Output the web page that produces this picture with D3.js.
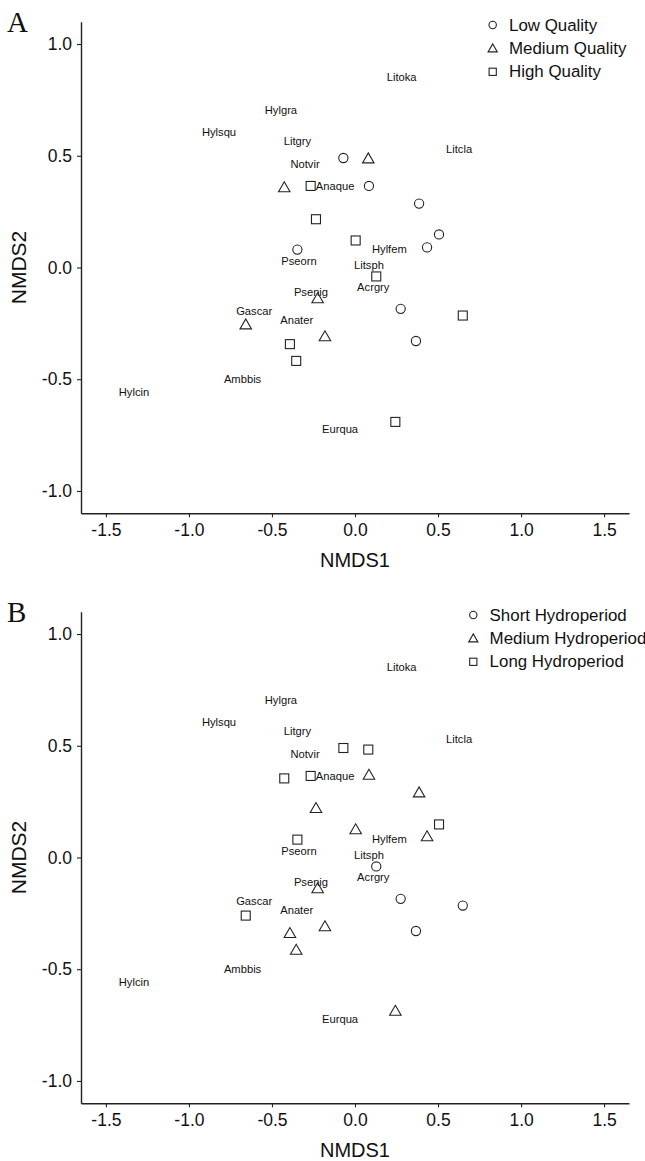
<!DOCTYPE html>
<html>
<head>
<meta charset="utf-8">
<script src="https://cdn.jsdelivr.net/npm/d3@7/dist/d3.min.js"></script>
<style>
  html, body { margin: 0; padding: 0; background: #fff; }
  svg { display: block; }
  text { font-family: "Liberation Sans", Arial, sans-serif; }
</style>
</head>
<body>
<svg id="chart" width="645" height="1161"></svg>
<script>
// ---- Data ----
const species = ["Hylgra","Hylsqu","Litgry","Notvir","Anaque","Litoka","Litcla","Hylfem","Litsph","Acrgry","Pseorn","Psenig","Gascar","Anater","Ambbis","Hylcin","Eurqua"];
const speciesX = [-0.446,-0.819,-0.347,-0.301,-0.120,0.281,0.627,0.207,0.084,0.110,-0.337,-0.265,-0.607,-0.351,-0.677,-1.331,-0.090];
const speciesY = [0.704,0.607,0.567,0.462,0.365,0.853,0.530,0.085,0.010,-0.087,0.030,-0.109,-0.194,-0.233,-0.501,-0.557,-0.721];

const siteX = [-0.070,0.080,-0.426,-0.267,0.084,0.386,-0.235,0.004,0.506,0.434,-0.347,0.128,-0.225,0.275,0.649,-0.658,-0.181,-0.392,0.367,-0.354,0.243];
const siteY = [0.490,0.483,0.354,0.365,0.365,0.286,0.216,0.121,0.148,0.090,0.080,-0.040,-0.143,-0.185,-0.215,-0.260,-0.313,-0.343,-0.329,-0.418,-0.691];
const quality = ["Low","Medium","Medium","High","Low","Low","High","High","Low","Low","Low","High","Medium","Low","High","Medium","Medium","High","Low","High","High"];
const hydroperiod = ["Long","Long","Long","Long","Medium","Medium","Medium","Medium","Long","Medium","Long","Short","Medium","Short","Short","Long","Medium","Medium","Short","Medium","Medium"];

const qualityLevels = ["Low","Medium","High"];
const qualityLabels = ["Low Quality","Medium Quality","High Quality"];
const hydroLevels = ["Short","Medium","Long"];
const hydroLabels = ["Short Hydroperiod","Medium Hydroperiod","Long Hydroperiod"];

const xTicks = [-1.5,-1.0,-0.5,0.0,0.5,1.0,1.5];
const yTicks = [-1.0,-0.5,0.0,0.5,1.0];

// ---- Drawing ----
const svg = d3.select("#chart");
const ink = "#222";
const fmt = d => d.toFixed(1); // plain hyphen-minus as in the reference

function marker(g, shape, cx, cy, s) {
  if (shape === 0) {
    g.append("circle").attr("cx", cx).attr("cy", cy).attr("r", 4.6 * s)
      .attr("fill", "none").attr("stroke", ink).attr("stroke-width", 1.1);
  } else if (shape === 1) {
    const a = 11.5 * s, h = a * Math.sqrt(3) / 2;
    const p = [[cx - a/2, cy + h/3], [cx + a/2, cy + h/3], [cx, cy - 2*h/3]];
    g.append("path").attr("d", "M" + p.map(d => d.join(",")).join("L") + "Z")
      .attr("fill", "none").attr("stroke", ink).attr("stroke-width", 1.1);
  } else {
    const a = 9 * s;
    g.append("rect").attr("x", cx - a/2).attr("y", cy - a/2).attr("width", a).attr("height", a)
      .attr("fill", "none").attr("stroke", ink).attr("stroke-width", 1.1);
  }
}

function panel(offsetY, letter, groups, levels, labels, legendX) {
  const g = svg.append("g").attr("transform", `translate(0,${offsetY})`);
  const x = d3.scaleLinear().domain([-1.65, 1.65]).range([81, 629]);
  const y = d3.scaleLinear().domain([-1.1, 1.1]).range([513.3, 21.7]);

  const xAxis = d3.axisBottom(x).tickValues(xTicks).tickFormat(fmt)
    .tickSizeOuter(0).tickSizeInner(4).tickPadding(6);
  const yAxis = d3.axisLeft(y).tickValues(yTicks).tickFormat(fmt)
    .tickSizeOuter(0).tickSizeInner(4).tickPadding(5);

  const gx = g.append("g").attr("transform", "translate(0,513.3)").call(xAxis);
  const gy = g.append("g").attr("transform", "translate(81,0)").call(yAxis);
  [gx, gy].forEach(a => {
    a.select(".domain").attr("stroke", ink).attr("stroke-width", 1.4);
    a.selectAll(".tick line").attr("stroke", ink).attr("stroke-width", 1.1);
    a.selectAll(".tick text").attr("fill", "#111").style("font-size", "17.5px")
      .style("font-family", "'Liberation Sans', Arial, sans-serif");
  });

  g.append("text").attr("x", 355).attr("y", 566.7).attr("text-anchor", "middle")
    .style("font-size", "20px").attr("fill", "#111").text("NMDS1");
  g.append("text").attr("transform", "translate(26,267.5) rotate(-90)")
    .attr("text-anchor", "middle").style("font-size", "21px").attr("fill", "#111").text("NMDS2");

  g.append("text").attr("x", 7).attr("y", 31.5)
    .style("font-family", "'Liberation Serif', 'Times New Roman', serif")
    .style("font-size", "29px").attr("fill", "#111").text(letter);

  // species labels
  species.forEach((s, i) => {
    g.append("text").attr("x", x(speciesX[i])).attr("y", y(speciesY[i]))
      .attr("text-anchor", "middle").attr("dominant-baseline", "central")
      .style("font-size", "11.2px").attr("fill", "#111").text(s);
  });

  // site points
  siteX.forEach((v, i) => {
    marker(g, levels.indexOf(groups[i]), x(v), y(siteY[i]), 1);
  });

  // legend
  const rows = [25, 48.7, 71.8];
  labels.forEach((lab, i) => {
    marker(g, i, legendX, rows[i] + (i === 1 ? 0.5 : 0), 0.8);
    g.append("text").attr("x", legendX + 16.3).attr("y", rows[i])
      .attr("dominant-baseline", "central").style("font-size", "16.9px")
      .attr("fill", "#111").text(lab);
  });
}

panel(0, "A", quality, qualityLevels, qualityLabels, 492.7);
panel(590, "B", hydroperiod, hydroLevels, hydroLabels, 473.3);
</script>
</body>
</html>
